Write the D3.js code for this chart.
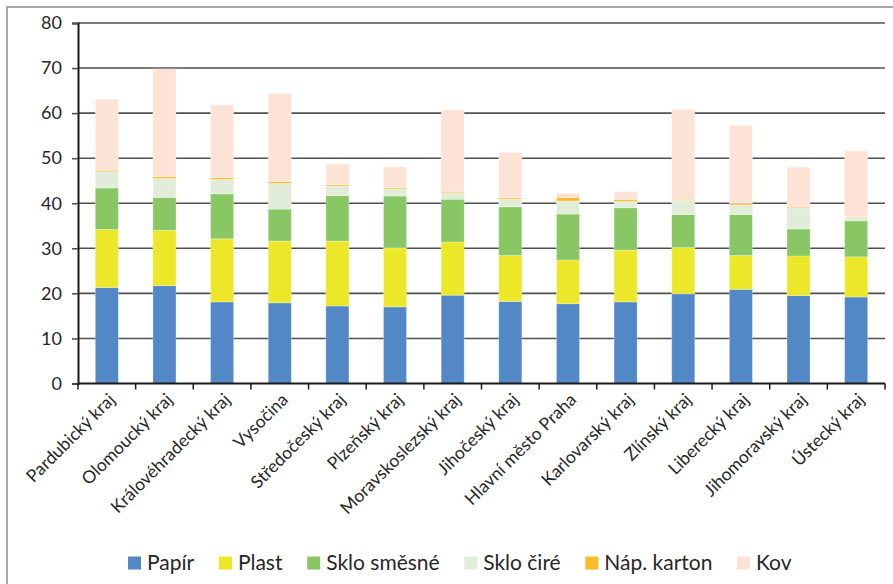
<!DOCTYPE html>
<html>
<head>
<meta charset="utf-8">
<script src="https://cdn.jsdelivr.net/npm/d3@7"></script>
<style>
  body { margin: 0; background: #fff; }
  svg { display: block; font-family: Lato, "Open Sans", sans-serif; }
</style>
</head>
<body>
<svg width="893" height="584"></svg>
<script>
// data
const regions = ['Pardubický kraj', 'Olomoucký kraj', 'Královéhradecký kraj', 'Vysočina', 'Středočeský kraj',
  'Plzeňský kraj', 'Moravskoslezský kraj', 'Jihočeský kraj', 'Hlavní město Praha', 'Karlovarský kraj',
  'Zlínský kraj', 'Liberecký kraj', 'Jihomoravský kraj', 'Ústecký kraj'];
const seriesNames = ['Papír', 'Plast', 'Sklo směsné', 'Sklo čiré', 'Náp. karton', 'Kov'];
const papir      = [21.3, 21.7, 18.1, 17.9, 17.2, 17.0, 19.6, 18.2, 17.7, 18.1, 19.9, 20.9, 19.5, 19.2];
const plast      = [12.9, 12.3, 14.0, 13.7, 14.4, 13.1, 11.8, 10.2,  9.7, 11.5, 10.3,  7.5,  8.8,  8.9];
const skloSmesne = [ 9.2,  7.3, 10.0,  7.1, 10.1, 11.5,  9.5, 10.8, 10.2,  9.4,  7.3,  9.1,  6.0,  8.0];
const skloCire   = [ 3.6,  4.2,  3.2,  5.7,  2.1,  1.6,  1.4,  1.7,  2.9,  1.4,  3.2,  2.1,  4.7,  0.8];
const napKarton  = [ 0.3,  0.4,  0.4,  0.4,  0.3,  0.3,  0.2,  0.3,  0.8,  0.4,  0.2,  0.4,  0.2,  0.1];
const kov        = [15.8, 23.9, 16.1, 19.6,  4.6,  4.6, 18.2, 10.1,  0.9,  1.8, 19.9, 17.3,  8.8, 14.6];
const yTicks = [0, 10, 20, 30, 40, 50, 60, 70, 80];

const colors = ['#5388c6', '#ece829', '#88c764', '#e2edd9', '#fbbb2b', '#fde3d5'];

const svg = d3.select('svg'),
  width = +svg.attr('width'),
  height = +svg.attr('height');

const margin = {top: 23, right: 8, bottom: 200, left: 78};
const plotW = 885 - margin.left, plotH = 383.5 - margin.top;

// outer frame
svg.append('rect')
  .attr('x', 7).attr('y', 7)
  .attr('width', width).attr('height', height)
  .attr('fill', 'none')
  .attr('stroke', '#8c8c8c')
  .attr('stroke-width', 1.5);

const g = svg.append('g').attr('transform', `translate(${margin.left},${margin.top})`);

// build table for the stack
const cols = [papir, plast, skloSmesne, skloCire, napKarton, kov];
const table = regions.map((r, i) => {
  const row = {region: r};
  seriesNames.forEach((s, j) => row[s] = cols[j][i]);
  return row;
});
const stacked = d3.stack().keys(seriesNames)(table);

const x = d3.scaleBand().domain(regions).range([0, plotW]).paddingInner(0.6).paddingOuter(0.3);
const y = d3.scaleLinear().domain([0, 80]).range([plotH, 0]);

// gridlines
g.append('g')
  .selectAll('line')
  .data(yTicks.filter(d => d > 0))
  .enter()
  .append('line')
  .attr('x1', 0).attr('x2', plotW)
  .attr('y1', d => y(d)).attr('y2', d => y(d))
  .attr('stroke', '#505050')
  .attr('stroke-width', 1.6);

// bars
g.append('g')
  .selectAll('g')
  .data(stacked)
  .enter()
  .append('g')
  .attr('fill', (d, i) => colors[i])
  .selectAll('rect')
  .data(d => d)
  .enter()
  .append('rect')
  .attr('x', d => x(d.data.region))
  .attr('width', x.bandwidth())
  .attr('y', d => y(d[1]))
  .attr('height', d => y(d[0]) - y(d[1]))
  .attr('stroke', '#ffffff')
  .attr('stroke-opacity', 0.35)
  .attr('stroke-width', 0.8);

// y axis
const yAxis = g.append('g')
  .call(d3.axisLeft(y).tickValues(yTicks).tickSize(6).tickPadding(10));
yAxis.select('.domain').attr('stroke', '#1a1a1a').attr('stroke-width', 2);
yAxis.selectAll('.tick line').attr('stroke', '#505050').attr('stroke-width', 1.6);
yAxis.selectAll('.tick text')
  .attr('fill', '#262626')
  .style('font-size', '18px')
  .style('font-family', 'Lato, "Open Sans", sans-serif');

// x axis with ticks at category boundaries
const step = plotW / regions.length;
const xAxis = g.append('g').attr('transform', `translate(0,${plotH})`);
xAxis.append('line')
  .attr('x1', 0).attr('x2', plotW)
  .attr('stroke', '#1a1a1a').attr('stroke-width', 2);
xAxis.selectAll('line.tk')
  .data(d3.range(regions.length + 1))
  .enter()
  .append('line')
  .attr('class', 'tk')
  .attr('x1', d => d * step).attr('x2', d => d * step)
  .attr('y1', 0).attr('y2', 6)
  .attr('stroke', '#1a1a1a').attr('stroke-width', 1.5);
xAxis.selectAll('text')
  .data(regions)
  .enter()
  .append('text')
  .attr('transform', d => `translate(${x(d) + x.bandwidth() / 2 + 5},${13}) rotate(-45)`)
  .attr('text-anchor', 'end')
  .attr('dy', '0.35em')
  .attr('fill', '#262626')
  .style('font-size', '17.5px')
  .text(d => d);

// legend
const legend = svg.append('g').attr('transform', 'translate(0,563)');
const items = legend.selectAll('g')
  .data(seriesNames)
  .enter()
  .append('g');
items.append('rect')
  .attr('width', 13).attr('height', 13)
  .attr('y', -6.5)
  .attr('fill', (d, i) => colors[i]);
items.append('text')
  .attr('x', 19)
  .attr('dy', '0.35em')
  .attr('fill', '#262626')
  .style('font-size', '21px')
  .text(d => d);
let pos = 0;
const offsets = [];
items.each(function() {
  offsets.push(pos);
  pos += 19 + this.querySelector('text').getComputedTextLength() + 25;
});
const k = (737 - 128) / offsets[offsets.length - 1];
items.attr('transform', (d, i) => `translate(${128 + offsets[i] * k},0)`);
</script>
</body>
</html>
